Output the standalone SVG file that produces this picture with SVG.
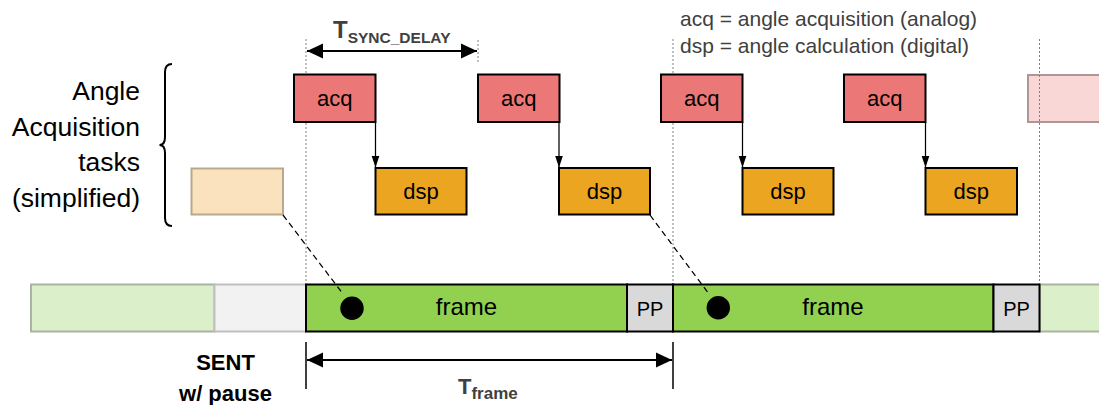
<svg xmlns="http://www.w3.org/2000/svg" width="1099" height="405" viewBox="0 0 1099 405">
  <defs>
    <style>
      text { font-family: "Liberation Sans", Arial, sans-serif; }
      .acq { fill: #EB7777; stroke: #000; stroke-width: 2; }
      .dsp { fill: #ECA521; stroke: #000; stroke-width: 2; }
      .lbl { font-size: 22px; fill: #000; text-anchor: middle; }
      .side { font-size: 26.5px; fill: #000; text-anchor: end; }
      .legend { font-size: 21px; fill: #404040; }
      .frame { fill: #92D050; stroke: #000; stroke-width: 2; }
      .pp { fill: #D9D9D9; stroke: #000; stroke-width: 2; }
      .guide { stroke: #808080; stroke-width: 1; stroke-dasharray: 2 2; fill: none; }
      .flow { stroke: #000; stroke-width: 1.25; fill: none; }
      .dash { stroke: #000; stroke-width: 1.25; stroke-dasharray: 6 4; fill: none; }
      .dim { stroke: #000; stroke-width: 2; fill: none; }
      .dimT { font-weight: bold; fill: #404040; }
    </style>
    <marker id="ah" markerUnits="userSpaceOnUse" markerWidth="12" markerHeight="16" refX="15" refY="5" viewBox="0 0 15 10" orient="auto">
      <path d="M0,0 L15,5 L0,10 Z" fill="#000"/>
    </marker>
    <marker id="dimh" markerUnits="userSpaceOnUse" markerWidth="16" markerHeight="16" refX="16" refY="8" viewBox="0 0 16 16" orient="auto-start-reverse">
      <path d="M0,0.5 L16,8 L0,15.5 Z" fill="#000"/>
    </marker>
  </defs>

  <!-- faded boxes (behind guides) -->
  <g id="faded-dsp"><rect x="191.5" y="168.5" width="91.5" height="46" fill="#F9E2BD" stroke="#B8A98D" stroke-width="2"/></g>
  <g id="faded-acq"><rect x="1028" y="75" width="80" height="47" fill="#F9D7D7" stroke="#AE9696" stroke-width="2"/></g>

  <!-- guide lines -->
  <g id="guides">
    <line class="guide" x1="306" y1="39" x2="306" y2="284"/>
    <line class="guide" x1="478" y1="40" x2="478" y2="64"/>
    <line class="guide" x1="673" y1="39" x2="673" y2="284"/>
    <line class="guide" x1="1039.5" y1="39" x2="1039.5" y2="284"/>
  </g>

  <!-- side label -->
  <g id="side-label">
    <path d="M172,64 Q165,64 165,72 L165,137 Q165,145 159.5,145 Q165,145 165,153 L165,218 Q165,226 172,226" fill="none" stroke="#000" stroke-width="2"/>
    <text class="side" x="140" y="100">Angle</text>
    <text class="side" x="140" y="135.5">Acquisition</text>
    <text class="side" x="140" y="171">tasks</text>
    <text class="side" x="140" y="206.5">(simplified)</text>
  </g>

  <!-- legend -->
  <g id="legend">
    <text class="legend" x="680" y="25.7">acq = angle acquisition (analog)</text>
    <text class="legend" x="680" y="53">dsp = angle calculation (digital)</text>
  </g>

  <!-- tasks -->
  <g id="acq1"><rect class="acq" x="294" y="74.5" width="81.5" height="47.5"/><text class="lbl" x="334.8" y="106">acq</text></g>
  <g id="dsp1"><rect class="dsp" x="375.5" y="168" width="91" height="46.5"/><text class="lbl" x="421" y="198.5">dsp</text></g>
  <g id="acq2"><rect class="acq" x="478" y="74.5" width="81.5" height="47.5"/><text class="lbl" x="518.8" y="106">acq</text></g>
  <g id="dsp2"><rect class="dsp" x="559" y="168" width="91" height="46.5"/><text class="lbl" x="604.5" y="198.5">dsp</text></g>
  <g id="acq3"><rect class="acq" x="661" y="74.5" width="81.5" height="47.5"/><text class="lbl" x="701.8" y="106">acq</text></g>
  <g id="dsp3"><rect class="dsp" x="742.5" y="168" width="91" height="46.5"/><text class="lbl" x="788" y="198.5">dsp</text></g>
  <g id="acq4"><rect class="acq" x="844" y="74.5" width="81.5" height="47.5"/><text class="lbl" x="884.8" y="106">acq</text></g>
  <g id="dsp4"><rect class="dsp" x="925.5" y="168" width="91.5" height="46.5"/><text class="lbl" x="971.2" y="198.5">dsp</text></g>

  <!-- SENT bar -->
  <g id="sent-prev"><rect x="31" y="284.5" width="183.5" height="47" fill="#DCEFCB" stroke="#A8B4A0" stroke-width="2"/></g>
  <g id="sent-pause"><rect x="214.5" y="284.5" width="91.5" height="47" fill="#F2F2F2" stroke="#BFBFBF" stroke-width="2"/></g>
  <g id="sent-next"><rect x="1039.5" y="284.5" width="70" height="47" fill="#DCEFCB" stroke="#A8B4A0" stroke-width="2"/></g>
  <g id="frame1"><rect class="frame" x="306" y="284.5" width="321" height="47"/><text class="lbl" x="466.5" y="315" style="font-size:24px">frame</text></g>
  <g id="pp1"><rect class="pp" x="627" y="284.5" width="46" height="47"/><text class="lbl" x="650" y="315.5" style="font-size:20px">PP</text></g>
  <g id="frame2"><rect class="frame" x="673" y="284.5" width="320.5" height="47"/><text class="lbl" x="833" y="315" style="font-size:24px">frame</text></g>
  <g id="pp2"><rect class="pp" x="993.5" y="284.5" width="46" height="47"/><text class="lbl" x="1016.5" y="315.5" style="font-size:20px">PP</text></g>
  <g id="dot1"><circle cx="352" cy="308.3" r="11.7" fill="#000"/></g>
  <g id="dot2"><circle cx="718.3" cy="307.8" r="11.7" fill="#000"/></g>

  <g id="sent-label">
    <text x="225.5" y="370" style="font-size:22px;font-weight:bold;text-anchor:middle">SENT</text>
    <text x="225.5" y="401" style="font-size:22px;font-weight:bold;text-anchor:middle">w/ pause</text>
  </g>

  <!-- connectors -->
  <g id="connectors">
    <line class="flow" x1="375.5" y1="122" x2="375.5" y2="167.5" marker-end="url(#ah)"/>
    <line class="flow" x1="559" y1="122" x2="559" y2="167.5" marker-end="url(#ah)"/>
    <line class="flow" x1="742.5" y1="122" x2="742.5" y2="167.5" marker-end="url(#ah)"/>
    <line class="flow" x1="925.5" y1="122" x2="925.5" y2="167.5" marker-end="url(#ah)"/>
    <line class="dash" x1="283" y1="215" x2="343" y2="294"/>
    <line class="dash" x1="650" y1="215" x2="709" y2="294"/>
  </g>

  <!-- dimensions -->
  <g id="dim-sync">
    <line class="dim" x1="307" y1="51" x2="477" y2="51" marker-start="url(#dimh)" marker-end="url(#dimh)"/>
    <text class="dimT" x="333" y="38.3" style="font-size:24px">T<tspan style="font-size:15.5px" dy="4.4">SYNC_DELAY</tspan></text>
  </g>
  <g id="dim-frame">
    <line x1="306" y1="342" x2="306" y2="389" stroke="#000" stroke-width="1.5"/>
    <line x1="673" y1="342" x2="673" y2="389" stroke="#000" stroke-width="1.5"/>
    <line class="dim" x1="307" y1="360" x2="672" y2="360" marker-start="url(#dimh)" marker-end="url(#dimh)"/>
    <text class="dimT" x="458" y="394" style="font-size:22px">T<tspan style="font-size:17px" dy="4.5">frame</tspan></text>
  </g>
</svg>
